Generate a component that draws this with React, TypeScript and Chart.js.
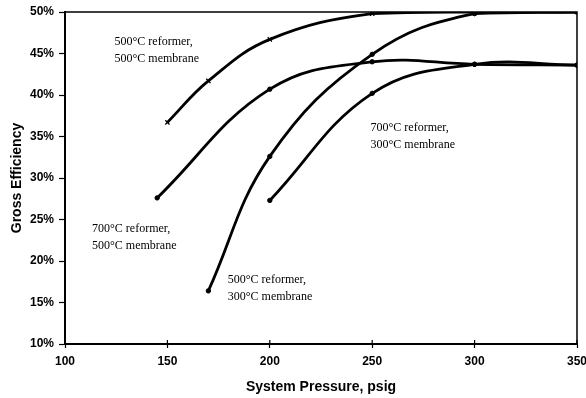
import React, { useEffect, useRef } from "react";
import { Chart, registerables } from "chart.js";

Chart.register(...registerables);

const xTicks = [100, 150, 200, 250, 300, 350];
const yTicks = [10, 15, 20, 25, 30, 35, 40, 45, 50];

const s500_500_x = [150, 170, 200, 250, 300, 350];
const s500_500_y = [36.7, 41.7, 46.7, 49.8, 50.0, 50.0];

const s700_500_x = [145, 200, 250, 300, 350];
const s700_500_y = [27.6, 40.7, 44.0, 43.7, 43.6];

const s500_300_x = [170, 200, 250, 300, 350];
const s500_300_y = [16.4, 32.6, 44.9, 49.8, 50.0];

const s700_300_x = [200, 250, 300, 350];
const s700_300_y = [27.3, 40.2, 43.7, 43.6];

const labels = [
  { x: 124.2, y: 46.4, lines: ["500°C reformer,", "500°C membrane"] },
  { x: 113.2, y: 23.9, lines: ["700°C reformer,", "500°C membrane"] },
  { x: 179.5, y: 17.7, lines: ["500°C reformer,", "300°C membrane"] },
  { x: 249.2, y: 36.0, lines: ["700°C reformer,", "300°C membrane"] },
];

const toPts = (xs: number[], ys: number[]) => xs.map((x, i) => ({ x, y: ys[i] }));

const framePlugin = {
  id: "frame",
  afterDatasetsDraw(chart: any) {
    const { ctx, chartArea, scales } = chart;
    ctx.save();
    ctx.strokeStyle = "#000";
    ctx.lineWidth = 1.5;
    ctx.beginPath();
    ctx.moveTo(chartArea.left, chartArea.top);
    ctx.lineTo(chartArea.right, chartArea.top);
    ctx.lineTo(chartArea.right, chartArea.bottom);
    ctx.stroke();
    ctx.lineWidth = 1.2;
    xTicks.forEach((v) => {
      const px = scales.x.getPixelForValue(v);
      ctx.beginPath();
      ctx.moveTo(px, chartArea.bottom);
      ctx.lineTo(px, chartArea.bottom - 4);
      ctx.stroke();
    });
    ctx.fillStyle = "#000";
    ctx.font = '12px "Liberation Serif", "Times New Roman", serif';
    ctx.textAlign = "left";
    ctx.textBaseline = "middle";
    labels.forEach((l) => {
      const px = scales.x.getPixelForValue(l.x);
      const py = scales.y.getPixelForValue(l.y);
      l.lines.forEach((t, i) => ctx.fillText(t, px, py + i * 17));
    });
    ctx.restore();
  },
};

const lineDs = (label: string, data: any[], style: string, radius: number) => ({
  label,
  data,
  borderColor: "#000",
  backgroundColor: "#000",
  borderWidth: 2.8,
  tension: 0.4,
  pointStyle: style,
  pointRadius: radius,
  pointBorderWidth: style === "crossRot" ? 1.3 : 1,
  pointBackgroundColor: "#000",
  pointBorderColor: "#000",
  fill: false,
});

export default function App() {
  const ref = useRef<HTMLCanvasElement>(null);
  useEffect(() => {
    if (!ref.current) return;
    const tickFont = { family: '"Liberation Sans", Arial, sans-serif', size: 12, weight: "bold" as const };
    const titleFont = { family: '"Liberation Sans", Arial, sans-serif', size: 14, weight: "bold" as const };
    const chart = new Chart(ref.current, {
      type: "line",
      data: {
        datasets: [
          lineDs("500°C reformer, 500°C membrane", toPts(s500_500_x, s500_500_y), "crossRot", 3),
          lineDs("700°C reformer, 500°C membrane", toPts(s700_500_x, s700_500_y), "circle", 2.2),
          lineDs("500°C reformer, 300°C membrane", toPts(s500_300_x, s500_300_y), "circle", 2.2),
          lineDs("700°C reformer, 300°C membrane", toPts(s700_300_x, s700_300_y), "circle", 2.2),
        ],
      },
      options: {
        animation: false,
        responsive: true,
        maintainAspectRatio: false,
        layout: { padding: { left: 0, right: 9, top: 12, bottom: 0 } },
        plugins: { legend: { display: false }, tooltip: { enabled: false } },
        scales: {
          x: {
            type: "linear",
            min: 100,
            max: 350,
            afterBuildTicks: (s: any) => {
              s.ticks = xTicks.map((v) => ({ value: v }));
            },
            afterFit: (s: any) => {
              s.paddingLeft = 0;
              s.paddingRight = 0;
              s.height = 54;
            },
            ticks: { color: "#000", font: tickFont, padding: 6, maxRotation: 0 },
            grid: { drawOnChartArea: false, drawTicks: true, tickLength: 4, color: "#000", tickWidth: 1.2 },
            border: { color: "#000", width: 2 },
            title: {
              display: true,
              text: "System Pressure, psig",
              color: "#000",
              font: titleFont,
              padding: { top: 0, bottom: 2.6 },
            },
          },
          y: {
            type: "linear",
            min: 10,
            max: 50,
            afterBuildTicks: (s: any) => {
              s.ticks = yTicks.map((v) => ({ value: v }));
            },
            afterFit: (s: any) => {
              s.paddingTop = 0;
              s.paddingBottom = 0;
              s.width = 65;
            },
            ticks: { color: "#000", font: tickFont, padding: 5, callback: (v: any) => v + "%" },
            grid: { drawOnChartArea: false, drawTicks: true, tickLength: 6, color: "#000", tickWidth: 1.2 },
            border: { color: "#000", width: 2 },
            title: {
              display: true,
              text: "Gross Efficiency",
              color: "#000",
              font: titleFont,
              padding: { top: 8.6, bottom: 0 },
            },
          },
        },
      },
      plugins: [framePlugin],
    });
    return () => chart.destroy();
  }, []);
  return (
    <div style={{ position: "absolute", left: 0, top: 0, width: 586, height: 398, background: "#fff" }}>
      <canvas ref={ref} />
    </div>
  );
}
